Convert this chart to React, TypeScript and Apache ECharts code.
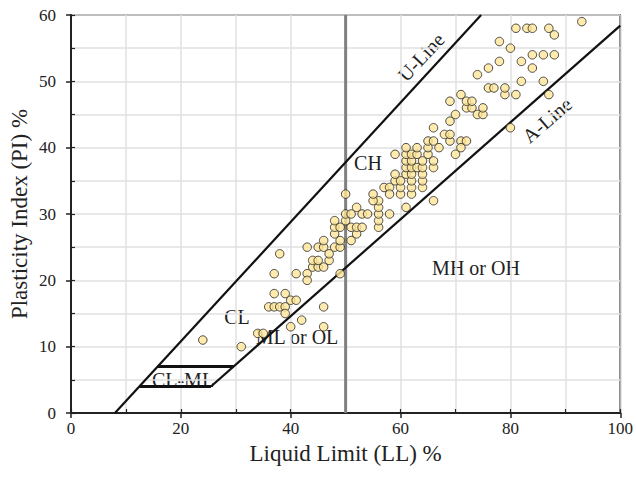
import React, { useEffect, useRef } from "react";
import * as echarts from "echarts";

// Soil samples: [Liquid Limit LL %, Plasticity Index PI %]
const samplesLow: number[][] = [
  [24, 11], [31, 10], [34, 12], [35, 12], [36, 16], [37, 16], [38, 16], [39, 16],
  [39, 15], [37, 18], [39, 18], [40, 17], [41, 17], [40, 13], [42, 14], [46, 16],
  [46, 13], [37, 21], [41, 21], [43, 21], [43, 20], [49, 21], [38, 24],
];
const samplesMid: number[][] = [
  [44, 22], [45, 22], [46, 22], [44, 23], [45, 23], [47, 23], [47, 24], [43, 25],
  [45, 25], [46, 25], [48, 25], [49, 25], [46, 26], [49, 26], [51, 26], [48, 27],
  [52, 27], [48, 28], [49, 28], [51, 28], [52, 28], [53, 28], [48, 29], [50, 29],
  [50, 30], [51, 30], [53, 30], [54, 30], [52, 31], [50, 33],
  [56, 28], [56, 29], [56, 30], [56, 31], [56, 32], [55, 32], [55, 33], [58, 30],
  [57, 34], [58, 34], [58, 33], [61, 31], [66, 32],
];
const samplesDense: number[][] = [
  [60, 33], [62, 33], [60, 34], [62, 34], [64, 34], [59, 35], [60, 35], [62, 35],
  [64, 35], [59, 36], [61, 36], [62, 36], [64, 36], [61, 37], [62, 37], [63, 37],
  [64, 37], [66, 37], [61, 38], [62, 38], [64, 38], [66, 38], [59, 39], [61, 39],
  [62, 39], [63, 39], [65, 39], [61, 40], [63, 40], [65, 40], [67, 40],
];
const samplesHigh: number[][] = [
  [65, 41], [66, 41], [69, 41], [71, 41], [72, 41], [71, 40], [70, 39], [68, 42],
  [69, 42], [66, 43], [80, 43], [69, 44], [70, 45], [74, 45], [75, 45], [72, 46],
  [73, 46], [75, 46], [69, 47], [72, 47], [73, 47], [71, 48], [79, 48], [81, 48],
  [87, 48], [76, 49], [77, 49], [79, 49], [82, 50], [86, 50], [74, 51], [76, 52],
  [84, 52], [78, 53], [82, 53], [84, 54], [86, 54], [88, 54], [80, 55], [78, 56],
  [88, 57], [81, 58], [83, 58], [84, 58], [87, 58], [93, 59],
];

// Casagrande chart boundaries
const U_LINE = { slope: 0.9, llZero: 8 };
const A_LINE = { slope: 0.73, llZero: 20 };
const CLML_PI = [4, 7];
const LL_DIVIDE = 50;
const X_MAX = 100;
const Y_MAX = 60;
const xTickLabels = ["0", "20", "40", "60", "80", "100"];
const yTickLabels = ["0", "10", "20", "30", "40", "50", "60"];

const FONT = "'Liberation Serif', 'Times New Roman', serif";

const uLL = (pi: number) => U_LINE.llZero + pi / U_LINE.slope;
const aLL = (pi: number) => A_LINE.llZero + pi / A_LINE.slope;
const aPI = (ll: number) => A_LINE.slope * (ll - A_LINE.llZero);

export default function App() {
  const ref = useRef<HTMLDivElement>(null);
  useEffect(() => {
    if (!ref.current) return;
    const chart = echarts.init(ref.current, undefined, { renderer: "svg" });
    const allSamples = [...samplesLow, ...samplesMid, ...samplesDense, ...samplesHigh];
    const lineSeries = (data: number[][], color: string, width: number, z: number) => ({
      type: "line",
      data,
      xAxisIndex: 0,
      yAxisIndex: 0,
      symbol: "none",
      silent: true,
      z,
      lineStyle: { color, width },
    });
    const textStyle = { fontFamily: FONT, fontSize: 20, fill: "#222" };
    chart.setOption({
      animation: false,
      backgroundColor: "#fff",
      grid: {
        left: 69, right: 14, top: 15, bottom: 67,
        show: true, borderColor: "#222", borderWidth: 1.5, backgroundColor: "transparent",
      },
      xAxis: [
        {
          type: "value", min: 0, max: X_MAX, interval: 20, position: "bottom",
          name: "Liquid Limit (LL) %", nameLocation: "middle", nameGap: 29,
          nameMoveOverlap: false,
          nameTextStyle: { fontFamily: FONT, fontSize: 23, color: "#222" },
          axisLine: { show: true, onZero: false, lineStyle: { color: "#222", width: 2 } },
          axisTick: { show: true, length: 5, lineStyle: { color: "#222", width: 1.5 } },
          axisLabel: {
            fontFamily: FONT, fontSize: 17, color: "#222", margin: 7,
            formatter: (v: number) => xTickLabels[Math.round(v / 20)] ?? "",
          },
          splitLine: { show: true, lineStyle: { color: "#e0e0e0", width: 1.5 } },
          minorTick: { show: false, splitNumber: 2 },
          minorSplitLine: { show: true, lineStyle: { color: "#e0e0e0", width: 1.5 } },
        },
        {
          type: "value", min: 0, max: X_MAX, interval: 10, position: "bottom",
          axisLine: { show: false, onZero: false },
          axisTick: { show: true, inside: true, length: 4, lineStyle: { color: "#222", width: 1.2 } },
          axisLabel: { show: false },
          splitLine: { show: false },
        },
      ],
      yAxis: [
        {
          type: "value", min: 0, max: Y_MAX, interval: 10, position: "left",
          name: "Plasticity Index (PI) %", nameLocation: "middle", nameGap: 40,
          nameMoveOverlap: false,
          nameTextStyle: { fontFamily: FONT, fontSize: 23, color: "#222" },
          axisLine: { show: true, onZero: false, lineStyle: { color: "#222", width: 2 } },
          axisTick: { show: true, length: 5, lineStyle: { color: "#222", width: 1.5 } },
          axisLabel: {
            fontFamily: FONT, fontSize: 17, color: "#222", margin: 15,
            formatter: (v: number) => yTickLabels[Math.round(v / 10)] ?? "",
          },
          splitLine: { show: true, lineStyle: { color: "#e0e0e0", width: 1.5 } },
          minorTick: { show: false, splitNumber: 2 },
          minorSplitLine: { show: true, lineStyle: { color: "#e0e0e0", width: 1.5 } },
        },
        {
          type: "value", min: 0, max: Y_MAX, interval: 5, position: "left",
          axisLine: { show: false, onZero: false },
          axisTick: { show: true, inside: true, length: 4, lineStyle: { color: "#222", width: 1.2 } },
          axisLabel: { show: false },
          splitLine: { show: false },
        },
      ],
      series: [
        lineSeries([[LL_DIVIDE, 0], [LL_DIVIDE, Y_MAX]], "#808080", 3, 2),
        lineSeries([[U_LINE.llZero, 0], [uLL(Y_MAX), Y_MAX]], "#111", 2.2, 3),
        lineSeries([[aLL(CLML_PI[0]), CLML_PI[0]], [X_MAX, aPI(X_MAX)]], "#111", 2.2, 3),
        lineSeries([[uLL(CLML_PI[0]), CLML_PI[0]], [aLL(CLML_PI[0]), CLML_PI[0]]], "#111", 3, 3),
        lineSeries([[uLL(CLML_PI[1]), CLML_PI[1]], [aLL(CLML_PI[1]), CLML_PI[1]]], "#111", 3, 3),
        {
          type: "scatter",
          data: allSamples,
          xAxisIndex: 0,
          yAxisIndex: 0,
          symbol: "circle",
          symbolSize: 8.5,
          z: 5,
          itemStyle: { color: "#FFE699", borderColor: "#222", borderWidth: 1 },
        },
      ],
      graphic: [
        { type: "text", x: 421, y: 57, rotation: (47 * Math.PI) / 180, style: { ...textStyle, text: "U-Line", align: "center", verticalAlign: "middle" } },
        { type: "text", x: 547, y: 120, rotation: (41 * Math.PI) / 180, style: { ...textStyle, text: "A-Line", align: "center", verticalAlign: "middle" } },
        { type: "text", x: 368, y: 163, style: { ...textStyle, text: "CH", align: "center", verticalAlign: "middle" } },
        { type: "text", x: 237, y: 317, style: { ...textStyle, text: "CL", align: "center", verticalAlign: "middle" } },
        { type: "text", x: 476, y: 268, style: { ...textStyle, text: "MH or OH", align: "center", verticalAlign: "middle" } },
        { type: "text", x: 297, y: 337, style: { ...textStyle, text: "ML or OL", align: "center", verticalAlign: "middle" } },
        { type: "text", x: 183, y: 380, style: { ...textStyle, text: "CL-ML", align: "center", verticalAlign: "middle" } },
      ],
    });
    return () => chart.dispose();
  }, []);
  return <div ref={ref} style={{ position: "absolute", left: 0, top: 0, width: 636, height: 480 }} />;
}
